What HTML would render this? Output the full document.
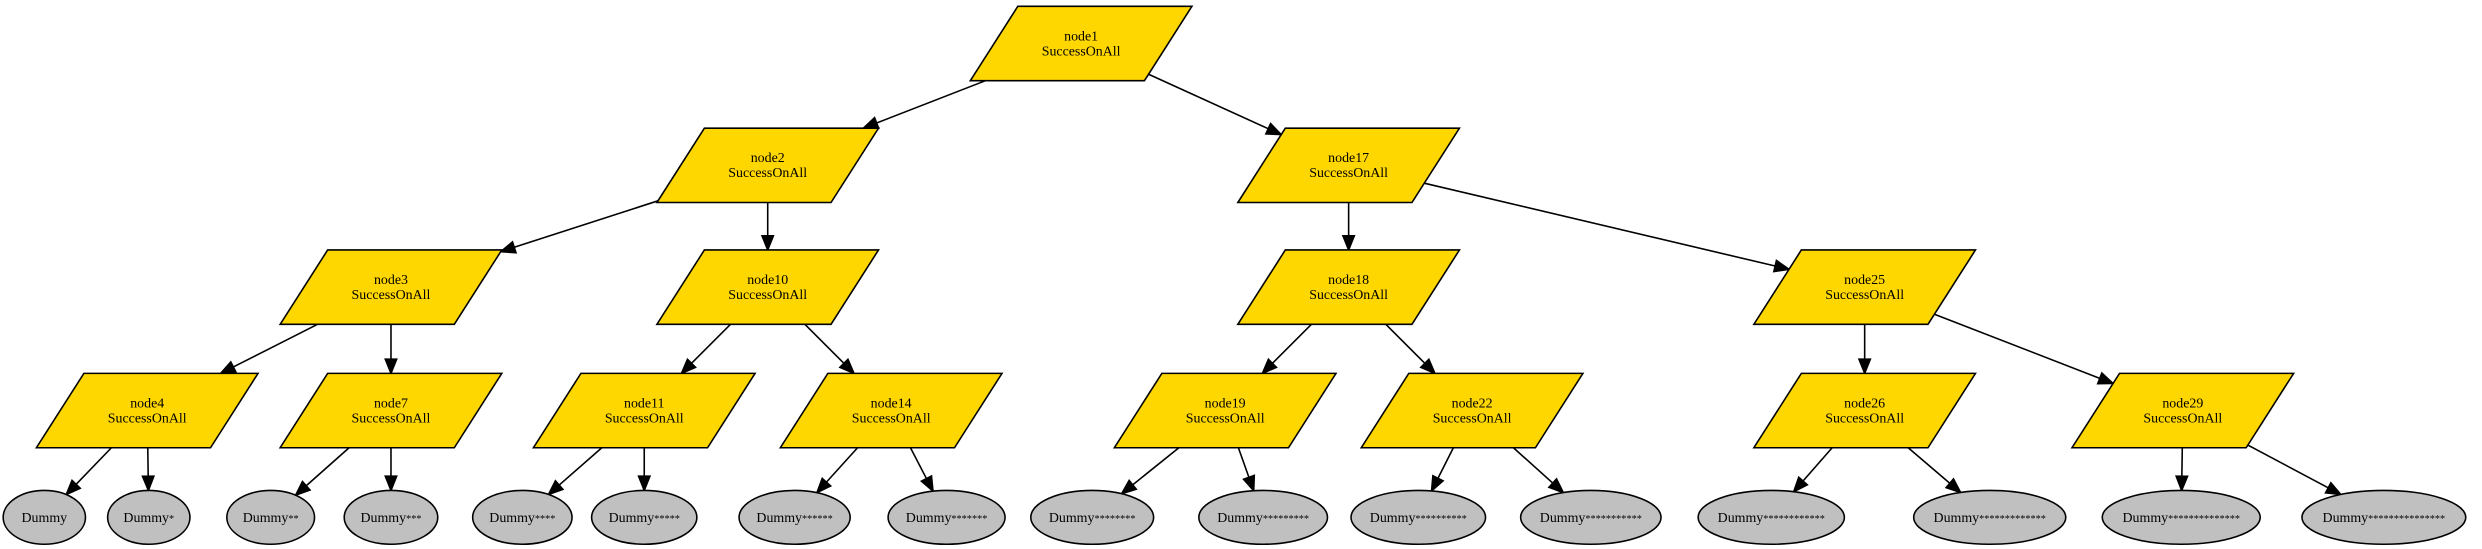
<!DOCTYPE html>
<html><head><meta charset="utf-8"><style>
html,body{margin:0;padding:0;background:#fff;}
svg{display:block;}
text{font-family:"Liberation Serif",serif;font-size:8.8px;fill:#000;}
</style></head><body>
<svg id="g" width="2482" height="549" viewBox="0 0 1568 347" preserveAspectRatio="none" xmlns="http://www.w3.org/2000/svg"></svg>
<script>
const svg=document.getElementById('g');
const NS='http://www.w3.org/2000/svg';
function el(t,a,txt){const e=document.createElementNS(NS,t);for(const k in a)e.setAttribute(k,a[k]);if(txt!==undefined)e.textContent=txt;svg.appendChild(e);return e;}
const rows=[4,81,158,236];const H=47;
const nodes={
1:[683,0],2:[485,1],17:[852,1],3:[247,2],10:[485,2],18:[852,2],25:[1178,2],
4:[93,3],7:[247,3],11:[407,3],14:[563,3],19:[774,3],22:[930,3],26:[1178,3],29:[1379,3]};
const dx=[28,94,171,247,330,407,502,598,690,798,896,1005,1119,1257,1378,1506];
const ELCY=327,ERY=17;
function rxOf(i){return Math.max(26,24+i*1.85);}
const edges=[[1,2],[1,17],[2,3],[2,10],[3,4],[3,7],[10,11],[10,14],[17,18],[17,25],[18,19],[18,22],[25,26],[25,29]];
const leafs=[[4,0],[4,1],[7,2],[7,3],[11,4],[11,5],[14,6],[14,7],[19,8],[19,9],[22,10],[22,11],[26,12],[26,13],[29,14],[29,15]];
function poly(n){const [x,r]=nodes[n];const t=rows[r],b=t+H;return [[x-40,t],[x+70,t],[x+40,b],[x-70,b]];}
function center(n){const [x,r]=nodes[n];return [x,rows[r]+H/2];}
function clip(n,tx,ty){const [cx,cy]=center(n);const P=poly(n);let best=null;
  const rx=tx-cx,ry=ty-cy;
  for(let i=0;i<4;i++){const [ax,ay]=P[i],[bx,by]=P[(i+1)%4];const sx=bx-ax,sy=by-ay;
    const den=rx*sy-ry*sx;if(Math.abs(den)<1e-9)continue;
    const t=((ax-cx)*sy-(ay-cy)*sx)/den;const u=((ax-cx)*ry-(ay-cy)*rx)/den;
    if(t>0&&u>=0&&u<=1&&(best===null||t<best))best=t;}
  return [cx+rx*best,cy+ry*best];}
function arrow(x1,y1,x2,y2){
  const L=Math.hypot(x2-x1,y2-y1),ux=(x2-x1)/L,uy=(y2-y1)/L,al=9,aw=3.6;
  const bx=x2-ux*al,by=y2-uy*al;
  el('line',{x1:x1,y1:y1,x2:bx,y2:by,stroke:'#000','stroke-width':1});
  el('polygon',{points:`${x2},${y2} ${bx-uy*aw},${by+ux*aw} ${bx+uy*aw},${by-ux*aw}`,fill:'#000',stroke:'#000','stroke-width':1});
}
edges.forEach(([p,c])=>{const [cx,cy]=center(c);const [px,py]=center(p);
  const s=clip(p,cx,cy);const e=clip(c,px,py);arrow(s[0],s[1],e[0],e[1]);});
leafs.forEach(([p,i])=>{const ex=dx[i],rx=rxOf(i);
  const s=clip(p,ex,ELCY);
  let vx=s[0]-ex,vy=s[1]-ELCY;const k=1/Math.sqrt((vx*vx)/(rx*rx)+(vy*vy)/(ERY*ERY));
  arrow(s[0],s[1],ex+vx*k,ELCY+vy*k);});
for(const n in nodes){const [x,r]=nodes[n];const t=rows[r];
  el('polygon',{points:poly(n).map(p=>p.join(',')).join(' '),fill:'#ffd700',stroke:'#000','stroke-width':1});
  el('text',{x:x,y:t+H/2-2,'text-anchor':'middle'},'node'+n);
  el('text',{x:x,y:t+H/2+7.5,'text-anchor':'middle'},'SuccessOnAll');}
dx.forEach((x,i)=>{el('ellipse',{cx:x,cy:ELCY,rx:rxOf(i),ry:ERY,fill:'#c0c0c0',stroke:'#000','stroke-width':1});
  const t=el('text',{x:x,y:ELCY+3,'text-anchor':'middle'});
  const a=document.createElementNS(NS,'tspan');a.textContent='Dummy';t.appendChild(a);
  if(i){const b=document.createElementNS(NS,'tspan');b.setAttribute('style','font-size:6.5px');b.textContent='*'.repeat(i);t.appendChild(b);}
});
</script>
</body></html>
